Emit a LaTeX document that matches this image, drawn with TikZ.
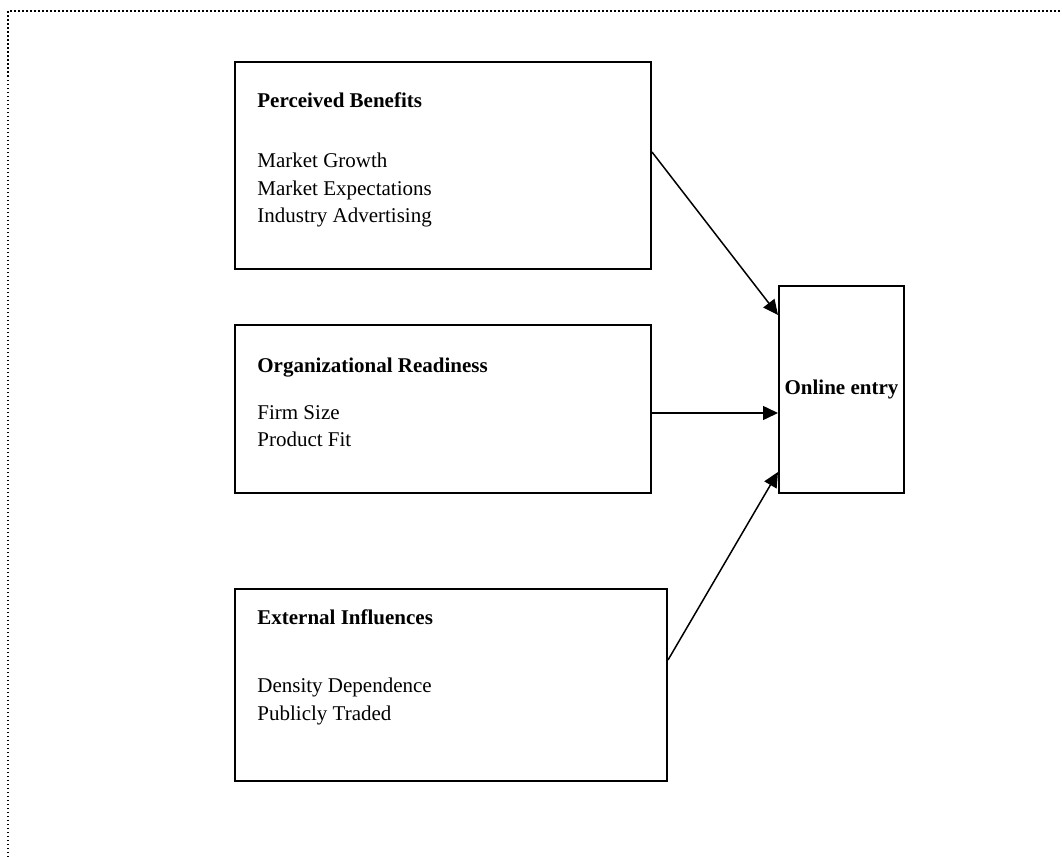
\documentclass[tikz,border=0pt]{standalone}
\usepackage{fontspec}
\setmainfont{Liberation Serif}
\usetikzlibrary{arrows.meta,positioning}
\tikzset{
  factor/.style = {rectangle, draw=black, line width=1pt, anchor=north west,
    inner sep=0pt},% box of one group of factors
  outcome/.style = {factor, font=\fontsize{10.5}{13.75}\selectfont\bfseries},% box on the right
  content/.style = {anchor=north west, inner sep=0pt, align=left,
    font=\fontsize{10.5}{13.75}\selectfont},
  link/.style = {-{Triangle[length=7.5pt,width=7pt]}, line width=0.75pt},
  frame/.style = {dash pattern=on 0.75pt off 1.25pt, line width=0.75pt},
}

\begin{document}
\begin{tikzpicture}[x=0.5pt,y=-0.5pt]
  \useasboundingbox (0,0) rectangle (1062,857);
  \draw[frame] (8,857) |- (1062,11);

  % the three groups
  \node[factor, minimum width=208pt, minimum height=103.5pt] (pb) at (234,61) {};
  \node[factor, minimum width=208pt, minimum height=84pt] (or) at (234,324) {};
  \node[factor, minimum width=216pt, minimum height=96pt] (ei) at (234,588) {};

  \node[content] (pbt) at ([shift={(23,31.5)}]pb.north west)
    {\textbf{Perceived Benefits}\\[16.25pt]Market Growth\\Market Expectations\\Industry Advertising};
  \node[content] (ort) at ([shift={(23,33.5)}]or.north west)
    {\textbf{Organizational Readiness}\\[9.75pt]Firm Size\\Product Fit};
  \node[content] (eit) at ([shift={(23,21.5)}]ei.north west)
    {\textbf{External Influences}\\[20.25pt]Density Dependence\\Publicly Traded};

  % outcome
  \node[outcome, minimum width=62.5pt, minimum height=103.5pt] (oe) at (778,285)
    {Online entry};

  % links
  \draw[link] (pb.east |- 0,152) -- (oe.north west |- 0,315);
  \draw[link] (or.east |- 0,413) -- (oe.west |- 0,413);
  \draw[link] (ei.east |- 0,660) -- (oe.west |- 0,472);
\end{tikzpicture}
\end{document}
